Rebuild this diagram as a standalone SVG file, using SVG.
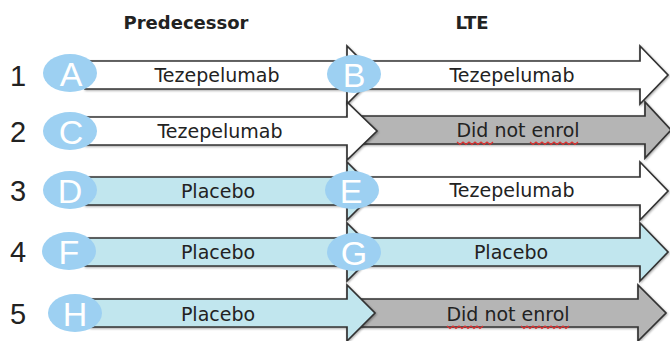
<svg xmlns="http://www.w3.org/2000/svg" width="670" height="341" viewBox="0 0 670 341">
<defs>
<filter id="sh" x="-5%" y="-20%" width="110%" height="140%">
<feDropShadow dx="0.8" dy="1" stdDeviation="0.8" flood-color="#000" flood-opacity="0.35"/>
</filter>
<style>
.ar{stroke:#333;stroke-width:1.7;stroke-linejoin:miter;filter:url(#sh)}
.w{fill:#ffffff}
.b{fill:#c1e6ee}
.g{fill:#b5b5b5}
.c{fill:#9dd0f2}
.cl{font-family:"Liberation Sans",Arial,sans-serif;font-size:34px;fill:#ffffff;text-anchor:middle}
.t{font-family:"DejaVu Sans",Verdana,sans-serif;font-size:19px;fill:#222;text-anchor:middle}
.h{font-family:"DejaVu Sans",Verdana,sans-serif;font-size:18px;font-weight:bold;fill:#222;text-anchor:middle}
.n{font-family:"Liberation Sans",Arial,sans-serif;font-size:29px;fill:#222;text-anchor:middle}
.sq{fill:none;stroke:#e03030;stroke-width:1.2}
</style>
</defs>
<rect width="670" height="341" fill="#ffffff"/>
<g id="headers">
<text class="h" x="186" y="29">Predecessor</text>
<text class="h" x="472" y="29">LTE</text>
</g>
<g id="row-numbers">
<text class="n" x="18" y="86">1</text>
<text class="n" x="18" y="142">2</text>
<text class="n" x="18" y="201">3</text>
<text class="n" x="18" y="262">4</text>
<text class="n" x="18" y="324">5</text>
</g>
<g id="connectors">
<path id="arrow-B" class="ar w" d="M347,61 H640 V46 L668,75 L640,104 V89 H347 Z"/>
<path id="arrow-row2-lte" class="ar g" d="M347,116 H645 V102 L671,130 L645,158 V144 H347 Z"/>
<path id="arrow-E" class="ar w" d="M347,177 H640 V162 L668,191 L640,220 V205 H347 Z"/>
<path id="arrow-G" class="ar b" d="M347,238 H640 V223 L668,252 L640,281 V266 H347 Z"/>
<path id="arrow-row5-lte" class="ar g" d="M347,299 H638 V285 L666,313 L638,341 V327 H347 Z"/>
<path id="arrow-A" class="ar w" d="M85,61 H347 V46 L376,75 L347,104 V89 H85 Z"/>
<path id="arrow-C" class="ar w" d="M85,117 H347 V102 L377,131 L347,160 V145 H85 Z"/>
<path id="arrow-D" class="ar b" d="M85,177 H347 V162 L376,191 L347,220 V205 H85 Z"/>
<path id="arrow-F" class="ar b" d="M85,238 H347 V223 L376,252 L347,281 V266 H85 Z"/>
<path id="arrow-H" class="ar b" d="M90,299 H347 V285 L375,313 L347,341 V327 H90 Z"/>
</g>
<g id="labels">
<text class="t" x="217" y="82">Tezepelumab</text>
<text class="t" x="512" y="82">Tezepelumab</text>
<text class="t" x="220" y="138">Tezepelumab</text>
<text class="t" x="518" y="137">Did not enrol</text>
<path class="sq" d="M457,142 l3,2.5 l3,-2.5 l3,2.5 l3,-2.5 l3,2.5 l3,-2.5 l3,2.5 l3,-2.5 l3,2.5 l3,-2.5 l3,2.5 l3,-2.5"/>
<path class="sq" d="M530,142 l3,2.5 l3,-2.5 l3,2.5 l3,-2.5 l3,2.5 l3,-2.5 l3,2.5 l3,-2.5 l3,2.5 l3,-2.5 l3,2.5 l3,-2.5 l3,2.5 l3,-2.5 l3,2.5 l3,-2.5"/>
<text class="t" x="218" y="198">Placebo</text>
<text class="t" x="512" y="197">Tezepelumab</text>
<text class="t" x="218" y="259">Placebo</text>
<text class="t" x="511" y="259">Placebo</text>
<text class="t" x="218" y="321">Placebo</text>
<text class="t" x="508" y="321">Did not enrol</text>
<path class="sq" d="M447,326 l3,2.5 l3,-2.5 l3,2.5 l3,-2.5 l3,2.5 l3,-2.5 l3,2.5 l3,-2.5 l3,2.5 l3,-2.5 l3,2.5 l3,-2.5"/>
<path class="sq" d="M521,326 l3,2.5 l3,-2.5 l3,2.5 l3,-2.5 l3,2.5 l3,-2.5 l3,2.5 l3,-2.5 l3,2.5 l3,-2.5 l3,2.5 l3,-2.5 l3,2.5 l3,-2.5 l3,2.5 l3,-2.5"/>
</g>
<g id="node-A"><ellipse class="c" cx="70" cy="73" rx="27" ry="19"/><text class="cl" x="71" y="86">A</text></g>
<g id="node-B"><ellipse class="c" cx="354" cy="74" rx="27" ry="19"/><text class="cl" x="354" y="87">B</text></g>
<g id="node-C"><ellipse class="c" cx="70" cy="131" rx="27" ry="19"/><text class="cl" x="71" y="144">C</text></g>
<g id="node-D"><ellipse class="c" cx="70" cy="190" rx="27" ry="19"/><text class="cl" x="70" y="203">D</text></g>
<g id="node-E"><ellipse class="c" cx="352" cy="190" rx="27" ry="19"/><text class="cl" x="351" y="203">E</text></g>
<g id="node-F"><ellipse class="c" cx="69" cy="251" rx="27" ry="19"/><text class="cl" x="69" y="264">F</text></g>
<g id="node-G"><ellipse class="c" cx="354" cy="252" rx="27" ry="19"/><text class="cl" x="354" y="265">G</text></g>
<g id="node-H"><ellipse class="c" cx="75" cy="313" rx="27" ry="19"/><text class="cl" x="75" y="326">H</text></g>
</svg>
